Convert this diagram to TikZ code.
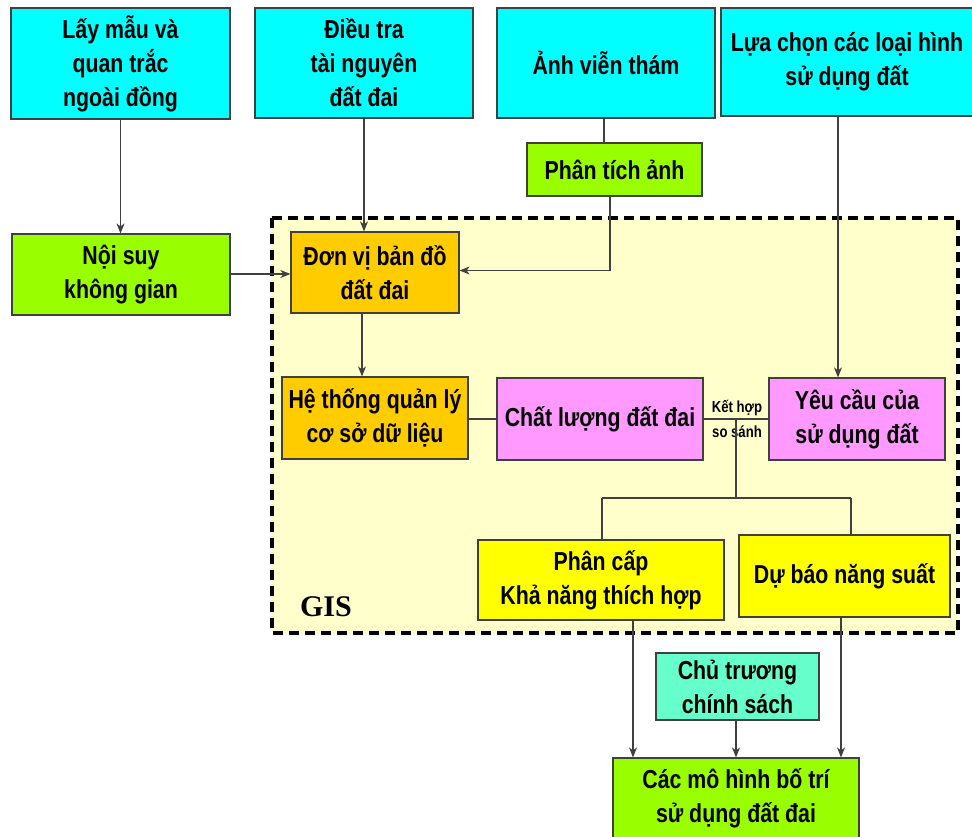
\documentclass[tikz,border=0pt]{standalone}
\usepackage{fontspec}
\newfontfamily\bx[FakeStretch=0.82]{Liberation Sans}
\newfontfamily\gisfont{Liberation Serif}
\usetikzlibrary{arrows.meta}
\definecolor{cy}{RGB}{0,255,255}
\definecolor{gr}{RGB}{153,255,0}
\definecolor{og}{RGB}{255,204,0}
\definecolor{pk}{RGB}{255,153,255}
\definecolor{ye}{RGB}{255,255,0}
\definecolor{aq}{RGB}{102,255,204}
\definecolor{ly}{RGB}{255,255,204}
\tikzset{
  box/.style={draw=black!75, line width=1.2pt, align=center, inner sep=0pt,
    font=\bx\bfseries\fontsize{26}{34}\selectfont},
  conn/.style={draw=black!75, line width=1.1pt},
  arr/.style={conn, -{Stealth[length=10pt,width=8pt,inset=3pt]}},
  small/.style={font=\bx\bfseries\fontsize{16}{18}\selectfont, inner sep=0pt}
}
\begin{document}
\begin{tikzpicture}[x=1pt,y=-1pt]
\useasboundingbox (0,0) rectangle (972,836);
% GIS region
\filldraw[fill=ly, draw=black, line width=4pt, dash pattern=on 10pt off 6pt] (272,218) rectangle (958,633);
\node[font=\gisfont\bfseries\fontsize{30}{32}\selectfont, inner sep=0pt] (gis) at (326,607) {GIS};
% top row
\node[box, fill=cy, minimum width=219pt, minimum height=111pt] (a) at (120.5,63.5) {Lấy mẫu và\\quan trắc\\ngoài đồng};
\node[box, fill=cy, minimum width=218pt, minimum height=110pt] (b) at (364,63) {Điều tra\\tài nguyên\\đất đai};
\node[box, fill=cy, minimum width=218pt, minimum height=110pt] (c) at (606,63) {Ảnh viễn thám};
\node[box, fill=cy, minimum width=252pt, minimum height=108pt] (d) at (847,62) {Lựa chọn các loại hình\\sử dụng đất};
\node[box, fill=gr, minimum width=175pt, minimum height=53pt] (e) at (614.5,169.5) {Phân tích ảnh};
\node[box, fill=gr, minimum width=218pt, minimum height=81pt] (f) at (121,274.5) {Nội suy\\không gian};
% inside GIS
\node[box, fill=og, minimum width=168pt, minimum height=81pt] (g) at (375,272.5) {Đơn vị bản đồ\\đất đai};
\node[box, fill=og, minimum width=186pt, minimum height=82pt] (h) at (375,418) {Hệ thống quản lý\\cơ sở dữ liệu};
\node[box, fill=pk, minimum width=206pt, minimum height=82pt] (i) at (600,419) {Chất lượng đất đai};
\node[box, fill=pk, minimum width=176pt, minimum height=82pt] (j) at (857,419) {Yêu cầu của\\sử dụng đất};
\node[box, fill=ye, minimum width=246pt, minimum height=80pt] (k) at (601,580) {Phân cấp\\Khả năng thích hợp};
\node[box, fill=ye, minimum width=211pt, minimum height=82pt] (l) at (844.5,576) {Dự báo năng suất};
% bottom
\node[box, fill=aq, minimum width=163pt, minimum height=67pt] (m) at (737.5,686.5) {Chủ trương\\chính sách};
\node[box, fill=gr, minimum width=246pt, minimum height=80pt] (n) at (736,798) {Các mô hình bố trí\\sử dụng đất đai};
% labels
\node[small] (kh) at (737,408) {Kết hợp};
\node[small] (ss) at (737,432) {so sánh};
% connectors
\draw[arr] (a.south) -- (a.south |- f.north);
\draw[arr] (b.south) -- (b.south |- g.north);
\draw[conn] ([xshift=-2pt]c.south) -- ([xshift=-2pt]c.south |- e.north);
\draw[arr] ([xshift=-4.5pt]e.south) |- ([yshift=2pt]g.east);
\draw[arr] ([yshift=0.5pt]f.east) -- ([yshift=0.5pt]f.east -| g.west);
\draw[arr] ([xshift=-13pt]g.south) -- ([xshift=-13pt]g.south |- h.north);
\draw[arr] ([xshift=-9pt]d.south) -- ([xshift=-9pt]d.south |- j.north);
\draw[conn] (h.east |- i.west) -- (i.west);
\draw[conn] (i.east) -- (j.west);
\coordinate (jx) at (736,419);
\coordinate (jd) at (736,498);
\coordinate (tl) at (602,498);
\coordinate (tr) at (851,498);
\draw[conn] (jx) -- (jd);
\draw[conn] (tl) -- (tr);
\draw[conn] (tl) -- (tl |- k.north);
\draw[conn] (tr) -- (tr |- l.north);
\draw[arr] ([xshift=32pt]k.south) -- ([xshift=32pt]k.south |- n.north);
\draw[arr] (m.south -| n.north) -- (n.north);
\draw[arr] ([xshift=-3.5pt]l.south) -- ([xshift=-3.5pt]l.south |- n.north);
\end{tikzpicture}
\end{document}
